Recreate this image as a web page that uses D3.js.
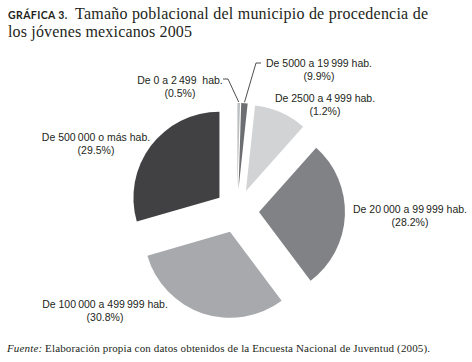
<!DOCTYPE html>
<html lang="es">
<head>
<meta charset="UTF-8"/>
<title>Gráfica 3</title>
<script src="https://d3js.org/d3.v7.min.js"></script>
<style>
    body { margin: 0; background: #fff; }
    svg { display: block; }
    .lbl { font-family: "Liberation Sans", Arial, sans-serif; font-size: 10.5px; fill: #231f20; white-space: pre; }
</style>
</head>
<body>
<script>

    var w = 472;
    var h = 362;

    // slices in clockwise order from 12 o'clock
    var categories = ["0 a 2 499", "2 500 a 4 999", "5 000 a 19 999", "20 000 a 99 999", "100 000 a 499 999", "500 000 o más"];
    var values = [0.5, 1.2, 9.9, 28.2, 30.8, 29.5];
    var colors = ["#bcbec0", "#6d6e71", "#d1d3d4", "#808285", "#a7a9ac", "#414042"];

    // label text as printed next to each slice
    var labelNames = ["De 0 a 2\u2009499  hab.", "De 5000 a 19\u2009999 hab.", "De 2500 a 4\u2009999 hab.",
                      "De 20\u2009000 a 99\u2009999 hab.", "De 100\u2009000 a 499\u2009999 hab.", "De 500\u2009000 o más hab."];
    var labelPcts = ["(0.5%)", "(9.9%)", "(1.2%)", "(28.2%)", "(30.8%)", "(29.5%)"];

    // label placement: center x, baseline of first line
    var labelPos = [
        { x: 180, y: 84 },
        { x: 319, y: 67 },
        { x: 325, y: 102 },
        { x: 410, y: 213 },
        { x: 105, y: 308 },
        { x: 96,  y: 141 }
    ];

    var cx = 237, cy = 211;
    var radius = 86;
    var explode = 22;

    var svg = d3.select("body")
                .append("svg")
                .attr("width", w)
                .attr("height", h);

    // title
    svg.append("text")
        .attr("x", 8)
        .attr("y", 19)
        .attr("font-family", "Lato, 'Liberation Sans', sans-serif")
        .attr("font-weight", "bold")
        .attr("font-size", 10.5)
        .attr("letter-spacing", 0.4)
        .attr("fill", "#231f20")
        .text("GRÁFICA 3.");

    svg.append("text")
        .attr("x", 75)
        .attr("y", 19)
        .attr("font-family", "'Liberation Serif', 'Times New Roman', serif")
        .attr("font-size", 16)
        .attr("textLength", 353)
        .attr("lengthAdjust", "spacing")
        .attr("fill", "#231f20")
        .text("Tamaño poblacional del municipio de procedencia de");

    svg.append("text")
        .attr("x", 8)
        .attr("y", 37)
        .attr("font-family", "'Liberation Serif', 'Times New Roman', serif")
        .attr("font-size", 16)
        .attr("textLength", 184)
        .attr("lengthAdjust", "spacing")
        .attr("fill", "#231f20")
        .text("los jóvenes mexicanos 2005");

    var pie = d3.pie().sort(null);
    var arcs = pie(values);

    var arc = d3.arc()
                .innerRadius(0)
                .outerRadius(radius);

    function offset(d, dist) {
        var a = (d.startAngle + d.endAngle) / 2;
        return [Math.sin(a) * dist, -Math.cos(a) * dist];
    }

    var g = svg.append("g")
                .attr("transform", "translate(" + cx + "," + cy + ")");

    g.selectAll("path")
        .data(arcs)
        .enter()
        .append("path")
        .attr("d", arc)
        .attr("transform", function(d) {
            var o = offset(d, explode);
            return "translate(" + o[0] + "," + o[1] + ")";
        })
        .attr("fill", function(d, i) { return colors[i]; });

    // leader lines for the two thin slices
    var leaders = [
        { i: 0, elbow: [228, 79], end: [223, 79] },
        { i: 1, elbow: [256, 63], end: [261, 63] }
    ];

    svg.selectAll("polyline")
        .data(leaders)
        .enter()
        .append("polyline")
        .attr("points", function(l) {
            var d = arcs[l.i];
            var o = offset(d, explode);
            var p = offset(d, radius + 1);
            var start = [cx + o[0] + p[0], cy + o[1] + p[1]];
            return [start, l.elbow, l.end].map(function(q) { return q.join(","); }).join(" ");
        })
        .attr("fill", "none")
        .attr("stroke", "#231f20")
        .attr("stroke-width", 0.8);

    var labels = svg.selectAll("text.lbl")
        .data(labelNames)
        .enter()
        .append("text")
        .attr("class", "lbl")
        .attr("text-anchor", "middle");

    labels.append("tspan")
        .attr("x", function(d, i) { return labelPos[i].x; })
        .attr("y", function(d, i) { return labelPos[i].y; })
        .text(function(d) { return d; });

    labels.append("tspan")
        .attr("x", function(d, i) { return labelPos[i].x; })
        .attr("y", function(d, i) { return labelPos[i].y + 13; })
        .text(function(d, i) { return labelPcts[i]; });

    // source note
    var src = svg.append("text")
        .attr("x", 7)
        .attr("y", 352)
        .attr("font-family", "'Liberation Serif', 'Times New Roman', serif")
        .attr("font-size", 11)
        .attr("textLength", 423)
        .attr("lengthAdjust", "spacing")
        .attr("fill", "#231f20");

    src.append("tspan")
        .attr("font-style", "italic")
        .text("Fuente:");

    src.append("tspan")
        .text(" Elaboración propia con datos obtenidos de la Encuesta Nacional de Juventud (2005).");

</script>
</body>
</html>
